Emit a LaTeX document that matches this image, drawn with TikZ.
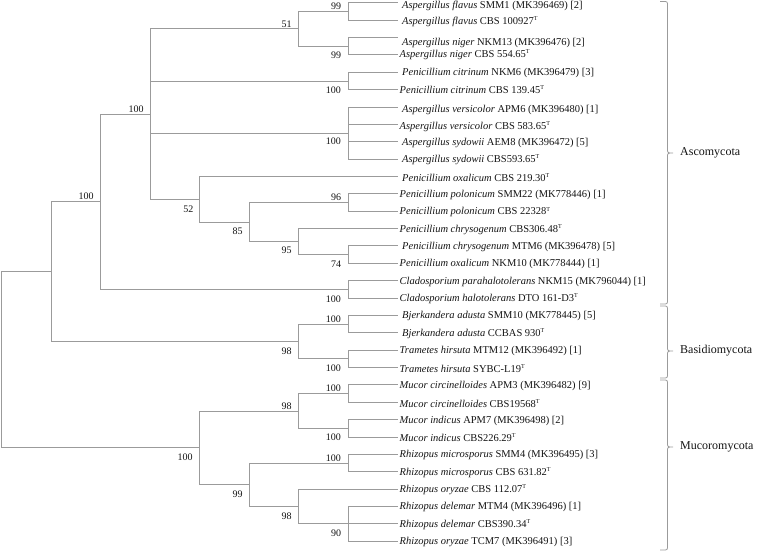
\documentclass[tikz,border=0pt]{standalone}
\usepackage{fontspec}
\setmainfont{Liberation Serif}
\definecolor{branch}{RGB}{155,155,155}
\definecolor{ink}{RGB}{20,20,20}
\tikzset{
  br/.style={draw=branch, line width=0.8pt},
  leaf/.style={anchor=west, inner sep=0pt, text=ink, font=\fontsize{10.5}{12}\selectfont},
  bs/.style={inner sep=0pt, text=ink, font=\fontsize{10}{12}\selectfont},
  clade/.style={anchor=west, inner sep=0pt, text=ink, font=\fontsize{12}{14}\selectfont},
}
\newcommand{\typestrain}{\textsuperscript{\fontsize{6}{7}\selectfont T}}
\begin{document}
\begin{tikzpicture}[x=1pt,y=-1pt]
\useasboundingbox (0,0) rectangle (758,552);
% leaf ends
\foreach \i/\yy in {1/2.7,2/20.07,3/37.44,4/54.81,5/72.18,6/89.55,7/106.92,8/124.29,9/141.66,10/159.03,11/176.4,12/193.77,13/211.14,14/228.51,15/245.88,16/263.25,17/280.62,18/297.99,19/315.36,20/332.73,21/350.1,22/367.47,23/384.84,24/402.21,25/419.58,26/436.95,27/454.32,28/471.69,29/489.06,30/506.43,31/523.8,32/541.17}
  {\coordinate (l\i) at (397.5,\yy);}
% internal nodes
\coordinate (a1) at (348,11.4);
\coordinate (a2) at (348,46.1);
\coordinate (n51) at (298.3,28.8);
\coordinate (a3) at (348,80.9);
\coordinate (a4) at (348,133);
\coordinate (a5) at (348,202.5);
\coordinate (a6) at (348,254.6);
\coordinate (n95) at (298.3,241.5);
\coordinate (n85) at (249.3,222);
\coordinate (n52) at (199.3,199.2);
\coordinate (nAi) at (150.7,114);
\coordinate (a7) at (348,289.3);
\coordinate (nA) at (100.7,201.7);
\coordinate (b1) at (348,324);
\coordinate (b2) at (348,358.8);
\coordinate (nB) at (298.3,341.4);
\coordinate (nAB) at (51,271.5);
\coordinate (m1) at (348,393.5);
\coordinate (m2) at (348,428.3);
\coordinate (nM98) at (298.3,410.9);
\coordinate (m3) at (348,463);
\coordinate (m4) at (348,523.8);
\coordinate (nR98) at (298.3,506.4);
\coordinate (n99) at (249.3,484.7);
\coordinate (nM) at (199.3,447.8);
\coordinate (root) at (1.7,359.6);
% branches
\draw[br] (root) |- (nAB); \draw[br] (root) |- (nM);
\draw[br] (nAB) |- (nA); \draw[br] (nAB) |- (nB);
\draw[br] (nA) |- (nAi); \draw[br] (nA) |- (a7);
\draw[br] (nAi) |- (n51); \draw[br] (nAi) |- (a3); \draw[br] (nAi) |- (a4); \draw[br] (nAi) |- (n52);
\draw[br] (n51) |- (a1); \draw[br] (n51) |- (a2);
\draw[br] (a1) |- (l1); \draw[br] (a1) |- (l2);
\draw[br] (a2) |- (l3); \draw[br] (a2) |- (l4);
\draw[br] (a3) |- (l5); \draw[br] (a3) |- (l6);
\draw[br] (a4) |- (l7); \draw[br] (a4) |- (l8); \draw[br] (a4) |- (l9); \draw[br] (a4) |- (l10);
\draw[br] (n52) |- (l11); \draw[br] (n52) |- (n85);
\draw[br] (n85) |- (a5); \draw[br] (n85) |- (n95);
\draw[br] (a5) |- (l12); \draw[br] (a5) |- (l13);
\draw[br] (n95) |- (l14); \draw[br] (n95) |- (a6);
\draw[br] (a6) |- (l15); \draw[br] (a6) |- (l16);
\draw[br] (a7) |- (l17); \draw[br] (a7) |- (l18);
\draw[br] (nB) |- (b1); \draw[br] (nB) |- (b2);
\draw[br] (b1) |- (l19); \draw[br] (b1) |- (l20);
\draw[br] (b2) |- (l21); \draw[br] (b2) |- (l22);
\draw[br] (nM) |- (nM98); \draw[br] (nM) |- (n99);
\draw[br] (nM98) |- (m1); \draw[br] (nM98) |- (m2);
\draw[br] (m1) |- (l23); \draw[br] (m1) |- (l24);
\draw[br] (m2) |- (l25); \draw[br] (m2) |- (l26);
\draw[br] (n99) |- (m3); \draw[br] (n99) |- (nR98);
\draw[br] (m3) |- (l27); \draw[br] (m3) |- (l28);
\draw[br] (nR98) |- (l29); \draw[br] (nR98) |- (m4);
\draw[br] (m4) |- (l30); \draw[br] (m4) |- (l31); \draw[br] (m4) |- (l32);
% bootstrap values
\node[bs] (s1) at (336,6) {99};
\node[bs] (s2) at (286.7,24) {51};
\node[bs] (s3) at (336,55) {99};
\node[bs] (s4) at (333.3,90) {100};
\node[bs] (s5) at (136,109.3) {100};
\node[bs] (s6) at (333.3,141.7) {100};
\node[bs] (s7) at (86,196.7) {100};
\node[bs] (s8) at (336,197.7) {96};
\node[bs] (s9) at (188.3,209) {52};
\node[bs] (s10) at (237.7,231) {85};
\node[bs] (s11) at (286.7,250.7) {95};
\node[bs] (s12) at (336,264) {74};
\node[bs] (s13) at (333.3,299) {100};
\node[bs] (s14) at (333.3,319.3) {100};
\node[bs] (s15) at (286.7,351) {98};
\node[bs] (s16) at (333.3,368.3) {100};
\node[bs] (s17) at (333.3,388.3) {100};
\node[bs] (s18) at (286.7,406) {98};
\node[bs] (s19) at (333.3,437.7) {100};
\node[bs] (s20) at (185,457.7) {100};
\node[bs] (s21) at (333.3,458.3) {100};
\node[bs] (s22) at (237.7,494) {99};
\node[bs] (s23) at (286.7,516.7) {98};
\node[bs] (s24) at (336,533.3) {90};
% taxa
\node[leaf] (t1) at (402,5.7) {\textit{Aspergillus flavus} SMM1 (MK396469) [2]};
\node[leaf] (t2) at (402,22.07) {\textit{Aspergillus flavus} CBS 100927\typestrain};
\node[leaf] (t3) at (402,43.44) {\textit{Aspergillus niger} NKM13 (MK396476) [2]};
\node[leaf] (t4) at (399.5,54.81) {\textit{Aspergillus niger} CBS 554.65\typestrain};
\node[leaf] (t5) at (402,73.18) {\textit{Penicillium citrinum} NKM6 (MK396479) [3]};
\node[leaf] (t6) at (399.5,89.55) {\textit{Penicillium citrinum} CBS 139.45\typestrain};
\node[leaf] (t7) at (402,109.92) {\textit{Aspergillus versicolor} APM6 (MK396480) [1]};
\node[leaf] (t8) at (399.5,126.29) {\textit{Aspergillus versicolor} CBS 583.65\typestrain};
\node[leaf] (t9) at (402,142.66) {\textit{Aspergillus sydowii} AEM8 (MK396472) [5]};
\node[leaf] (t10) at (402,159.53) {\textit{Aspergillus sydowii} CBS593.65\typestrain};
\node[leaf] (t11) at (402,177.4) {\textit{Penicillium oxalicum} CBS 219.30\typestrain};
\node[leaf] (t12) at (399.5,194.77) {\textit{Penicillium polonicum} SMM22 (MK778446) [1]};
\node[leaf] (t13) at (399.5,212.14) {\textit{Penicillium polonicum} CBS 22328\typestrain};
\node[leaf] (t14) at (399.5,229.51) {\textit{Penicillium chrysogenum} CBS306.48\typestrain};
\node[leaf] (t15) at (402,246.88) {\textit{Penicillium chrysogenum} MTM6 (MK396478) [5]};
\node[leaf] (t16) at (399.5,264.25) {\textit{Penicillium oxalicum} NKM10 (MK778444) [1]};
\node[leaf] (t17) at (399.5,281.62) {\textit{Cladosporium parahalotolerans} NKM15 (MK796044) [1]};
\node[leaf] (t18) at (399.5,298.99) {\textit{Cladosporium halotolerans} DTO 161-D3\typestrain};
\node[leaf] (t19) at (402,316.36) {\textit{Bjerkandera adusta} SMM10 (MK778445) [5]};
\node[leaf] (t20) at (402,333.73) {\textit{Bjerkandera adusta} CCBAS 930\typestrain};
\node[leaf] (t21) at (399.5,351.1) {\textit{Trametes hirsuta} MTM12 (MK396492) [1]};
\node[leaf] (t22) at (399.5,368.47) {\textit{Trametes hirsuta} SYBC-L19\typestrain};
\node[leaf] (t23) at (399.5,385.84) {\textit{Mucor circinelloides} APM3 (MK396482) [9]};
\node[leaf] (t24) at (399.5,403.21) {\textit{Mucor circinelloides} CBS19568\typestrain};
\node[leaf] (t25) at (399.5,420.58) {\textit{Mucor indicus} APM7 (MK396498) [2]};
\node[leaf] (t26) at (399.5,437.95) {\textit{Mucor indicus} CBS226.29\typestrain};
\node[leaf] (t27) at (399.5,455.32) {\textit{Rhizopus microsporus} SMM4 (MK396495) [3]};
\node[leaf] (t28) at (399.5,472.69) {\textit{Rhizopus microsporus} CBS 631.82\typestrain};
\node[leaf] (t29) at (399.5,490.06) {\textit{Rhizopus oryzae} CBS 112.07\typestrain};
\node[leaf] (t30) at (399.5,507.43) {\textit{Rhizopus delemar} MTM4 (MK396496) [1]};
\node[leaf] (t31) at (399.5,524.8) {\textit{Rhizopus delemar} CBS390.34\typestrain};
\node[leaf] (t32) at (399.5,542.17) {\textit{Rhizopus oryzae} TCM7 (MK396491) [3]};
% clade brackets
\foreach \t/\m/\b in {1.5/153/304, 306/351/378, 380/447/550}{
  \draw[br] (660,\t) -- (665.5,\t) to[out=0,in=90] (667.5,\t+2) -- (667.5,\m-2)
    to[out=-90,in=180] (670,\m) -- (673,\m) -- (670,\m) to[out=180,in=90] (667.5,\m+2)
    -- (667.5,\b-2) to[out=-90,in=0] (665.5,\b) -- (660,\b);
}
\node[clade] (c1) at (680,153) {Ascomycota};
\node[clade] (c2) at (680,351) {Basidiomycota};
\node[clade] (c3) at (680,447) {Mucoromycota};
\end{tikzpicture}
\end{document}
